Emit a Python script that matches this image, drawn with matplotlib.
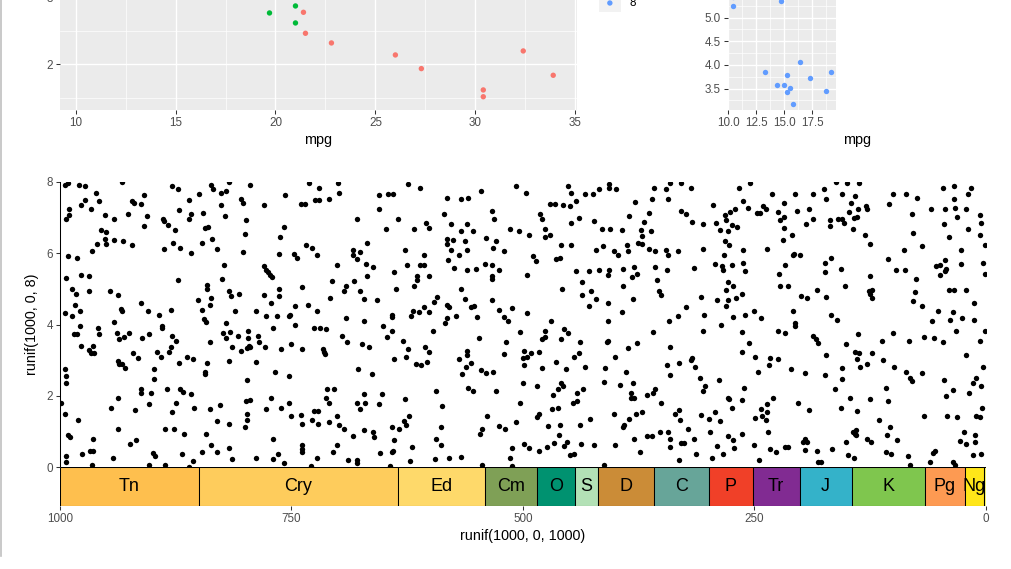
import numpy as np
import matplotlib.pyplot as plt
from matplotlib.lines import Line2D

plt.rcParams['font.family'] = ['Liberation Sans', 'DejaVu Sans']

# mtcars (top plots)
mpg = [21.0, 21.0, 22.8, 21.4, 18.7, 18.1, 14.3, 24.4, 22.8, 19.2, 17.8, 16.4, 17.3, 15.2, 10.4, 10.4,
       14.7, 32.4, 30.4, 33.9, 21.5, 15.5, 15.2, 13.3, 19.2, 27.3, 26.0, 30.4, 15.8, 19.7, 15.0, 21.4]
wt = [2.620, 2.875, 2.320, 3.215, 3.440, 3.460, 3.570, 3.190, 3.150, 3.440, 3.440, 4.070, 3.730, 3.780,
      5.250, 5.424, 5.345, 2.200, 1.615, 1.835, 2.465, 3.520, 3.435, 3.840, 3.845, 1.935, 2.140, 1.513,
      3.170, 2.770, 3.570, 2.780]
cyl = [6, 6, 4, 6, 8, 6, 8, 4, 4, 6, 6, 8, 8, 8, 8, 8, 8, 4, 4, 4, 4, 8, 8, 8, 8, 4, 4, 4, 8, 6, 8, 4]
cyl_colors = {4: '#F8766D', 6: '#00BA38', 8: '#619CFF'}

# geologic periods (Ma)
period_abbr = ['Tn', 'Cry', 'Ed', 'Cm', 'O', 'S', 'D', 'C', 'P', 'Tr', 'J', 'K', 'Pg', 'Ng', 'Q']
period_max = [1000, 850, 635, 541, 485.4, 443.8, 419.2, 358.9, 298.9, 251.902, 201.3, 145, 66, 23.03, 2.58]
period_min = [850, 635, 541, 485.4, 443.8, 419.2, 358.9, 298.9, 251.902, 201.3, 145, 66, 23.03, 2.58, 0]
period_col = ['#FEBF4E', '#FECC5C', '#FED96A', '#7FA056', '#009270', '#B3E1B6', '#CB8C37', '#67A599',
              '#F04028', '#812B92', '#34B2C9', '#7FC64E', '#FD9A52', '#FFE619', '#F9F97F']

# runif(1000, 0, 1000) vs runif(1000, 0, 8)
pts_a = [(995,7.91),(991,7.97),(979,7.91),(973,7.88),(933,7.99),(879,7.88),(873,7.79),(837,7.91),(835,7.81),
 (818,7.99),(795,7.91),(731,7.96),(720,7.84),(961,7.70),(909,7.63),(850,7.65),(826,7.70),(821,7.75),(757,7.63),
 (973,7.49),(958,7.47),(922,7.47),(920,7.42),(913,7.39),(861,7.49),(805,7.53),(802,7.42),(826,7.35),(740,7.39),
 (735,7.38),(725,7.49),(720,7.49),(709,7.51),(990,7.25),(977,7.35),(967,7.25),(872,7.21),(780,7.35),
 (990,7.07),(951,7.07),(927,7.11),(906,7.05),(859,7.11),(846,7.14),(822,7.04),(994,6.95),(942,6.95),(889,6.95),
 (888,6.91),(861,6.95),(799,6.92),(758,6.75),(909,6.76),(883,6.79),(843,6.72),(840,6.74),(956,6.65),(950,6.61),
 (876,6.66),(800,6.53),(762,6.45),(951,6.41),(942,6.38),(960,6.27),(950,6.25),(932,6.33),(922,6.22),(878,6.28),
 (870,6.16),(847,6.28),(836,6.39),(830,6.13),(734,6.22),(728,6.14),(888,6.13),(859,6.02),(802,6.03),(747,5.97),
 (744,5.87),(764,5.99),(723,5.94),(991,5.91),(982,5.88),(965,6.06),(994,5.31),(977,5.38),(969,5.35),(823,5.68),
 (825,5.27),(780,5.64),(777,5.52),(775,5.48),(773,5.38),(771,5.33),(706,5.22),(873,5.26),(841,5.12),(841,5.01),
 (764,4.99),(739,5.04),(987,5.00),(983,4.87),(969,4.93),(946,4.93),(937,4.84),(817,4.95),(815,4.80),(807,4.87),
 (780,4.82),(763,4.80),(984,4.54),(913,4.59),(851,4.70),(847,4.42),(838,4.56),(837,4.73),(772,4.59),(746,4.52),
 (732,4.54),(708,4.73),(978,4.39),(722,4.38),(995,4.31),(934,4.43),(933,4.39),(905,4.39),(880,4.40),(811,4.37),
 (788,4.37),(752,4.27)]
pts_b = [(987,4.24),(893,4.26),(778,4.24),(766,4.24),(753,4.24),(978,3.96),(959,3.89),(942,4.08),(890,3.96),
 (890,3.89),(844,4.15),(842,4.08),(821,4.03),(770,3.89),(746,4.00),(726,3.89),(719,3.89),(713,3.86),(985,3.72),
 (982,3.74),(958,3.73),(938,3.75),(926,3.76),(904,3.72),(879,3.69),(824,3.75),(816,3.80),(808,3.68),(797,3.82),
 (786,3.68),(977,3.39),(936,3.59),(931,3.66),(911,3.61),(875,3.53),(838,3.50),(821,3.62),(814,3.36),(797,3.63),
 (785,3.50),(779,3.36),(796,3.40),(969,3.28),(967,3.19),(964,3.39),(963,3.19),(921,3.19),(916,3.05),(895,3.22),
 (891,3.09),(882,3.22),(880,3.36),(805,3.26),(798,3.35),(795,3.37),(761,3.31),(751,3.45),(739,3.31),(716,3.31),
 (715,3.22),(714,3.16),(937,2.98),(936,2.88),(933,2.88),(930,2.79),(872,2.93),(863,3.08),(856,3.02),(841,2.91),
 (817,2.97),(788,2.94),(995,2.75),(994,2.55),(898,2.74),(843,2.67),(843,2.61),(768,2.66),(753,2.55),(993,2.37),
 (898,2.46),(798,2.43),(913,2.18),(913,2.08),(902,2.09),(884,2.18),(870,2.18),(867,2.11),(859,2.04),(712,2.18),
 (704,2.18),(999,1.81),(937,1.93),(904,1.76),(875,1.81),(799,1.85),(795,1.88),(772,1.93),(753,1.79),(713,1.95),
 (709,1.81),(945,1.67),(919,1.60),(879,1.53),(855,1.67),(838,1.64),(827,1.74),(798,1.50),(777,1.63),(761,1.65),
 (750,1.43),(740,1.46),(726,1.57),(721,1.57),(995,1.50),(981,1.32),(830,1.29),(818,1.22),(798,1.32),(739,1.22),
 (728,1.32),(721,1.22),(709,1.25),(937,1.08),(887,1.08),(877,1.08),(800,1.11),(842,0.94),(866,0.92),(991,0.90),
 (989,0.83),(918,0.76),(924,0.64),(964,0.79),(837,0.62),(830,0.41),(817,0.52),(770,0.79),(739,0.62),(739,0.50),
 (739,0.43),(705,0.43),(994,0.31),(994,0.13),(976,0.37),(968,0.45),(964,0.45),(965,0.07),(943,0.24),(904,0.07),
 (900,0.38),(897,0.31),(887,0.07),(868,0.37),(861,0.01),(856,0.17),(847,0.41),(814,0.22),(788,0.25),(770,0.22),
 (765,0.37),(758,0.10),(729,0.04),(722,0.25)]
pts_c = [(700,7.97),(699,7.70),(624,7.93),(611,7.84),(656,7.63),(646,7.67),(640,7.67),(582,7.56),(567,7.51),
 (559,7.56),(545,7.75),(508,7.88),(497,7.70),(451,7.88),(448,7.70),(433,7.65),(424,7.65),(418,7.79),(407,7.94),
 (407,7.84),(400,7.79),(358,7.84),(471,7.39),(465,7.39),(457,7.35),(449,7.32),(443,7.47),(379,7.44),(361,7.53),
 (655,7.25),(534,7.19),(585,7.11),(482,7.10),(479,6.97),(679,6.95),(635,6.95),(605,6.86),(601,6.72),(578,6.81),
 (561,6.81),(531,6.97),(448,6.86),(439,7.00),(423,6.91),(386,7.04),(369,6.88),(364,7.14),(648,6.69),(618,6.67),
 (567,6.62),(554,6.62),(514,6.67),(504,6.62),(494,6.51),(476,6.69),(476,6.46),(471,6.51),(415,6.69),(406,6.69),
 (393,6.65),(373,6.65),(362,6.62),(371,6.48),(582,6.41),(576,6.38),(563,6.34),(540,6.44),(529,6.34),(668,6.30),
 (582,6.25),(532,6.16),(459,6.22),(448,6.22),(376,6.30),(371,6.25),(388,6.22),(684,6.10),(676,6.03),(684,5.95),
 (679,5.85),(627,6.10),(578,6.09),(560,6.09),(569,5.95),(520,6.05),(607,5.94),(581,5.82),(421,6.09),(414,6.19),
 (402,6.05),(397,5.94),(387,6.05),(364,6.13),(357,6.06),(701,5.66),(670,5.71),(662,5.62),(625,5.66),(611,5.68),
 (607,5.68),(574,5.60),(561,5.54),(551,5.57),(541,5.71),(533,5.66),(526,5.54),(489,5.91),(486,5.78),(464,5.85),
 (460,5.88),(443,5.50),(429,5.50),(418,5.54),(407,5.52),(392,5.57),(380,5.62),(357,5.62),(668,5.35),(639,5.46),
 (615,5.35),(614,5.26),(601,5.35),(533,5.35),(533,5.29),(496,5.38),(408,5.38),(382,5.32),(377,5.43),(355,5.26),
 (436,5.18),(682,5.22),(691,5.09),(392,5.09),(693,4.94),(676,4.94),(637,5.01),(618,5.07),(567,5.01),(458,4.99),
 (436,4.84),(427,4.94),(353,4.94),(351,4.84),(672,4.71),(658,4.68),(593,4.76),(596,4.62),(563,4.71),(533,4.68),
 (421,4.71),(381,4.71),(408,4.59),(582,4.56),(580,4.48),(556,4.48),(553,4.53),(607,4.48),(619,4.37),(612,4.36),
 (602,4.34),(642,4.28),(526,4.40),(512,4.47),(496,4.31),(429,4.53),(393,4.34)]
pts_d = [(691,4.17),(672,4.11),(641,4.20),(621,4.24),(582,4.17),(584,4.03),(572,4.24),(550,4.22),(521,4.22),
 (516,4.11),(470,4.11),(408,4.11),(651,3.97),(641,3.83),(647,3.65),(597,3.81),(695,3.69),(690,3.52),(503,3.78),
 (476,3.83),(456,3.86),(451,3.75),(360,3.78),(630,3.55),(674,3.44),(666,3.36),(547,3.61),(518,3.52),(479,3.58),
 (476,3.66),(459,3.58),(438,3.50),(408,3.55),(409,3.50),(387,3.33),(377,3.47),(624,3.30),(606,3.36),(601,3.24),
 (561,3.27),(561,3.13),(521,3.16),(499,3.27),(491,3.19),(483,3.24),(500,3.05),(496,3.08),(445,3.10),(440,3.19),
 (401,3.08),(626,3.10),(639,3.02),(616,2.88),(610,2.86),(604,2.96),(569,3.02),(556,2.91),(562,2.80),(566,2.60),
 (545,2.71),(540,2.63),(532,2.68),(499,2.85),(480,2.77),(464,2.96),(454,2.74),(433,2.80),(411,2.77),(389,2.66),
 (678,2.74),(663,2.60),(413,2.40),(500,2.37),(485,2.26),(459,2.37),(457,2.26),(462,2.18),(559,2.23),(554,2.12),
 (529,2.12),(594,2.12),(395,2.29),(381,2.35),(442,2.07),(435,2.18),(672,2.04),(652,2.04),(468,2.01),(383,2.07),
 (383,1.93),(380,1.93),(366,2.01),(360,2.09),(357,2.18),(679,1.79),(671,1.79),(676,1.62),(656,1.76),(627,1.90),
 (587,1.70),(503,1.81),(446,1.81),(442,1.85),(469,1.62),(462,1.65),(351,1.79),(701,1.42),(623,1.42),(629,1.28),
 (626,1.17),(539,1.42),(483,1.48),(485,1.39),(402,1.48),(428,1.34),(386,1.34),(378,1.50),(372,1.53),(508,1.25),
 (699,1.17),(693,1.08),(672,1.03),(662,0.97),(661,0.85),(642,1.11),(634,1.08),(589,1.11),(544,1.08),(546,0.92),
 (526,1.14),(519,1.06),(473,1.14),(460,1.17),(438,1.17),(461,0.89),(391,1.17),(392,1.11),(380,0.80),(366,0.86),
 (361,0.86),(352,0.97),(684,0.86),(594,0.80),(639,0.75),(701,0.61),(620,0.55),(589,0.61),(512,0.52),(499,0.64),
 (493,0.52),(483,0.44),(474,0.55),(467,0.66),(456,0.58),(452,0.69),(437,0.64),(423,0.61),(401,0.61),(374,0.41),
 (689,0.19),(679,0.19),(679,0.12),(654,0.38),(642,0.42),(640,0.44),(622,0.17),(595,0.22),(580,0.25),(567,0.28),
 (544,0.07),(514,0.25),(512,0.04),(449,0.33),(445,0.36),(413,0.07),(644,0.03)]
pts_e = [(346,7.79),(341,7.97),(329,7.96),(319,7.84),(267,7.84),(255,7.96),(175,7.79),(162,7.99),(150,7.97),
 (137,7.97),(46,7.84),(35,7.88),(16,7.84),(343,7.53),(231,7.65),(206,7.65),(187,7.65),(155,7.67),(142,7.62),
 (173,7.51),(100,7.67),(86,7.67),(74,7.56),(19,7.65),(35,7.51),(262,7.48),(218,7.42),(295,7.35),(271,7.25),
 (257,7.28),(276,7.17),(282,7.06),(241,7.32),(238,7.24),(247,7.14),(244,7.14),(225,7.17),(204,7.20),(191,7.25),
 (146,7.42),(148,7.17),(138,7.25),(130,7.34),(129,7.23),(105,7.37),(59,7.23),(44,7.23),(33,7.28),(22,7.23),
 (329,7.20),(324,7.09),(218,7.03),(223,6.92),(187,6.97),(194,6.83),(169,6.77),(168,6.92),(160,6.97),(156,6.97),
 (153,6.86),(143,7.00),(139,7.03),(80,7.09),(31,7.03),(6,7.06),(5,6.86),(45,6.81),(317,6.89),(306,6.83),
 (292,6.86),(281,6.92),(274,6.78),(269,6.75),(279,6.63),(287,6.64),(144,6.69),(218,6.72),(209,6.50),(219,6.36),
 (131,6.50),(125,6.27),(79,6.58),(19,6.69),(40,6.47),(7,6.50),(282,6.33),(277,6.22),(69,6.19),(1,6.22),
 (346,6.10),(333,6.05),(343,5.94),(306,6.13),(262,6.08),(236,6.13),(283,5.94),(207,5.99),(208,5.94),(201,5.96),
 (89,6.08),(27,6.08),(167,5.88),(106,5.85),(44,5.82),(345,5.54),(315,5.60),(293,5.71),(285,5.63),(284,5.54),
 (274,5.68),(262,5.74),(260,5.49),(217,5.66),(224,5.43),(174,5.74),(174,5.46),(157,5.57),(97,5.54),(87,5.54),
 (54,5.63),(50,5.68),(43,5.57),(44,5.51),(50,5.40),(27,5.71),(3,5.74),(1,5.43),(125,5.35),(76,5.29),(279,5.18),
 (273,5.09),(281,4.98),(263,4.87),(222,5.09),(214,5.07),(152,5.09),(183,4.98),(123,4.98),(126,4.94),(125,4.87),
 (123,4.73),(40,4.98),(35,4.98),(22,4.98),(77,4.90),(308,4.76),(290,4.70),(279,4.70),(270,4.73),(200,4.81),
 (193,4.73),(173,4.76),(79,4.65),(69,4.51),(13,4.59),(324,4.48),(281,4.51),(304,4.28),(260,4.28),(250,4.39),
 (208,4.37),(167,4.28),(52,4.39),(36,4.34)]
pts_f = [(342,4.11),(333,4.25),(273,4.20),(243,4.17),(206,4.03),(206,3.95),(161,4.14),(58,4.09),(39,4.14),
 (26,4.17),(13,4.14),(286,4.00),(306,3.81),(263,3.78),(225,3.83),(217,3.75),(187,3.67),(184,3.58),(181,3.47),
 (138,3.72),(100,3.75),(112,3.55),(151,3.44),(83,3.53),(67,3.64),(56,3.61),(46,3.50),(32,3.81),(1,3.81),(6,3.55),
 (341,3.38),(256,3.47),(264,3.22),(249,3.10),(233,3.05),(225,3.02),(234,2.85),(173,3.13),(141,3.22),(137,3.19),
 (139,3.02),(123,3.19),(128,2.88),(136,2.80),(111,2.99),(22,3.13),(344,2.85),(331,2.91),(318,3.05),(319,2.99),
 (314,2.82),(341,2.57),(246,2.66),(211,2.74),(195,2.63),(174,2.57),(156,2.77),(155,2.46),(99,2.82),(86,2.68),
 (82,2.49),(80,2.41),(69,2.63),(3,2.80),(309,2.51),(288,2.43),(45,2.43),(11,2.51),(14,2.37),(306,2.12),(303,2.26),
 (261,2.21),(279,1.93),(277,1.90),(264,1.87),(274,1.67),(230,1.95),(237,1.76),(163,2.18),(147,1.95),(125,1.90),
 (106,1.85),(108,2.21),(36,2.15),(43,1.98),(18,2.07),(5,2.26),(203,1.79),(157,1.65),(331,1.59),(336,1.48),
 (330,1.31),(308,1.45),(299,1.34),(293,1.53),(287,1.28),(249,1.37),(243,1.62),(242,1.42),(237,1.53),(238,1.31),
 (191,1.59),(139,1.56),(116,1.31),(67,1.42),(42,1.42),(31,1.39),(11,1.42),(7,1.39),(4,1.65),(322,1.08),
 (341,0.78),(343,0.99),(315,0.78),(298,0.99),(279,0.86),(273,0.75),(263,0.92),(235,0.97),(195,0.78),(193,0.69),
 (198,0.69),(151,0.69),(144,0.99),(142,0.94),(140,1.03),(140,0.89),(129,0.80),(124,0.69),(104,1.11),(107,0.89),
 (96,0.75),(24,0.97),(12,0.89),(28,0.72),(22,0.64),(12,0.69),(341,0.55),(313,0.36),(331,0.19),(329,0.66),
 (326,0.66),(296,0.25),(291,0.58),(284,0.36),(272,0.52),(251,0.61),(245,0.19),(233,0.50),(227,0.41),(217,0.55),
 (214,0.55),(195,0.47),(182,0.44),(181,0.13),(178,0.13),(166,0.50),(149,0.33),(143,0.24),(108,0.41),(103,0.36),
 (84,0.30),(82,0.05),(61,0.13),(55,0.44),(57,0.38),(36,0.13),(33,0.05),(14,0.33),(5,0.36)]

pts = np.array(pts_a + pts_b + pts_c + pts_d + pts_e + pts_f)
rx, ry = pts[:, 0], pts[:, 1]

W, H = 1012, 569
fig = plt.figure(figsize=(W / 100, H / 100), dpi=100)


def px(l, t, r, b):
    # pixel box (left, top, right, bottom) -> figure fractions
    return [l / W, 1 - b / H, (r - l) / W, (b - t) / H]


tick_kw = dict(labelsize=8.4, labelcolor='#4D4D4D', color='#333333', length=2.7, width=0.75)


def grey_panel(ax, xmaj, xmin, ymaj, ymin):
    ax.set_facecolor('#EBEBEB')
    ax.set_xticks(xmaj)
    ax.set_xticks(xmin, minor=True)
    ax.set_yticks(ymaj)
    ax.set_yticks(ymin, minor=True)
    ax.grid(which='major', color='white', lw=1.0)
    ax.grid(which='minor', color='white', lw=0.5)
    ax.set_axisbelow(True)
    for s in ax.spines.values():
        s.set_visible(False)
    ax.tick_params(which='minor', length=0)
    ax.tick_params(which='major', pad=2.5, **tick_kw)


# top left: all cars
ax1 = fig.add_axes(px(60.2, -177, 576.7, 109.8))
ax1.set_xlim(9.225, 35.075)
ax1.set_ylim(1.317, 5.620)
grey_panel(ax1, [10, 15, 20, 25, 30, 35], [12.5, 17.5, 22.5, 27.5, 32.5],
           [2, 3, 4, 5], [1.5, 2.5, 3.5, 4.5, 5.5])
ax1.scatter(mpg, wt, c=[cyl_colors[c] for c in cyl], s=15, linewidths=0, zorder=3)
fig.text(318 / W, 1 - 140 / H, 'mpg', ha='center', va='center', fontsize=10.4)

# legend (only the bottom key is in view)
lg = fig.add_axes(px(599, -40.25, 620.7, 11.65))
lg.set_xlim(0, 1)
lg.set_ylim(-0.5, 2.5)
lg.set_facecolor('#F2F2F2')
for s in lg.spines.values():
    s.set_visible(False)
lg.set_xticks([])
lg.set_yticks([])
levels = [8, 6, 4]
lg.scatter([0.5] * 3, [0, 1, 2], c=[cyl_colors[k] for k in levels], s=15, linewidths=0)
for i, k in enumerate(levels):
    lg.text(1.4, i, str(k), va='center', ha='left', fontsize=8.4)

# top right: 8 cylinders
eight = [i for i, c in enumerate(cyl) if c == 8]
ax2 = fig.add_axes(px(727.9, -7.9, 836.3, 109.5))
ax2.set_xlim(9.96, 19.64)
ax2.set_ylim(3.057, 5.537)
grey_panel(ax2, [10, 12.5, 15, 17.5], [11.25, 13.75, 16.25, 18.75],
           [3.5, 4.0, 4.5, 5.0], [3.25, 3.75, 4.25, 4.75, 5.25])
ax2.set_xticklabels(['10.0', '12.5', '15.0', '17.5'])
ax2.set_yticklabels(['3.5', '4.0', '4.5', '5.0'])
ax2.scatter([mpg[i] for i in eight], [wt[i] for i in eight], c=cyl_colors[8], s=15, linewidths=0, zorder=3)
fig.text(857 / W, 1 - 140 / H, 'mpg', ha='center', va='center', fontsize=10.4)

# main scatter
ax = fig.add_axes(px(60, 182, 986, 467))
ax.scatter(rx, ry, s=15, c='black', linewidths=0)
ax.set_xlim(1000, 0)
ax.set_ylim(0, 8)
ax.set_yticks([0, 2, 4, 6, 8])
ax.set_xticks([])
for side in ['top', 'right', 'bottom']:
    ax.spines[side].set_visible(False)
ax.spines['left'].set_linewidth(0.75)
ax.tick_params(axis='y', pad=2.5, **tick_kw)
ax.set_ylabel('runif(1000, 0, 8)', fontsize=10.4, labelpad=5)

# time scale under the axis
gx = fig.add_axes(px(60, 467, 986, 506))
gx.set_xlim(1000, 0)
gx.set_ylim(0, 1)
widths = [a - b for a, b in zip(period_max, period_min)]
gx.bar(period_min, [1] * len(period_min), width=widths, bottom=0, align='edge',
       color=period_col, edgecolor='black', linewidth=0.75)
for ab, a, b in zip(period_abbr, period_max, period_min):
    if ab == 'Q':
        continue
    mid = (min(a, 1000) + max(b, 0)) / 2
    gx.text(mid, 0.5, ab, ha='center', va='center', fontsize=13, color='black', clip_on=False)
for s in gx.spines.values():
    s.set_visible(False)
gx.set_yticks([])
gx.set_xticks([1000, 750, 500, 250, 0])
gx.tick_params(axis='x', pad=2.5, **tick_kw)
gx.set_xlabel('runif(1000, 0, 1000)', fontsize=10.4, labelpad=3)

# window border at the left edge
fig.add_artist(Line2D([0.6 / W, 0.6 / W], [1, 1 - 556 / H], transform=fig.transFigure,
                      color='#C0C0C0', lw=1.2))

fig.savefig('out.png', dpi=100)
